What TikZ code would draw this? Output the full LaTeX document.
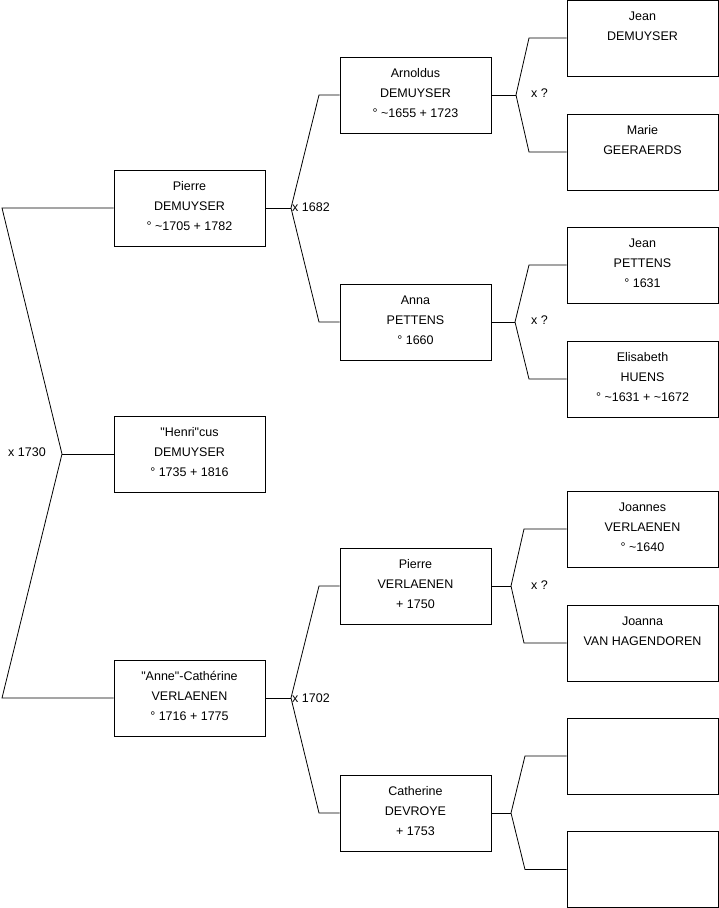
\documentclass[tikz,border=0pt]{standalone}
\usepackage{fontspec}
\setmainfont{Liberation Sans}
\newcommand{\lastdep}{\rule[-4pt]{0pt}{4pt}}
\begin{document}
\begin{tikzpicture}[x=1pt,y=-1pt,
  person/.style={draw, line width=0.8pt, minimum width=151pt, minimum height=76pt, inner sep=0pt, align=center, font=\fontsize{12.5}{20}\selectfont},
  link/.style={line width=0.8pt},
  lbl/.style={font=\fontsize{12.5}{15}\selectfont, inner sep=0pt, anchor=west}]
\useasboundingbox (0,0) rectangle (719,908);
% generation 1
\node[person] (p1) at (189.5,208) {Pierre\\DEMUYSER\\° \textasciitilde1705 + 1782\lastdep};
\node[person] (h1) at (189.5,454) {\textquotedbl Henri\textquotedbl cus\\DEMUYSER\\° 1735 + 1816\lastdep};
\node[person] (a1) at (189.5,698) {\textquotedbl Anne\textquotedbl -Cathérine\\VERLAENEN\\° 1716 + 1775\lastdep};
% generation 2
\node[person] (ar) at (415.5,95) {Arnoldus\\DEMUYSER\\° \textasciitilde1655 + 1723\lastdep};
\node[person] (an) at (415.5,322) {Anna\\PETTENS\\° 1660\lastdep};
\node[person] (pv) at (415.5,586) {Pierre\\VERLAENEN\\+ 1750\lastdep};
\node[person] (ca) at (415.5,813) {Catherine\\DEVROYE\\+ 1753\lastdep};
% generation 3
\node[person] (jd) at (642.5,38) {Jean\\DEMUYSER\\\vphantom{1}\lastdep};
\node[person] (mg) at (642.5,152) {Marie\\GEERAERDS\\\vphantom{1}\lastdep};
\node[person] (jp) at (642.5,265) {Jean\\PETTENS\\° 1631\lastdep};
\node[person] (eh) at (642.5,379) {Elisabeth\\HUENS\\° \textasciitilde1631 + \textasciitilde1672\lastdep};
\node[person] (jv) at (642.5,529) {Joannes\\VERLAENEN\\° \textasciitilde1640\lastdep};
\node[person] (jh) at (642.5,643) {Joanna\\VAN HAGENDOREN\\\vphantom{1}\lastdep};
\node[person] (e1) at (642.5,756) {};
\node[person] (e2) at (642.5,869.5) {};
% fork points
\coordinate (f0) at (62,454);
\coordinate (c0a) at (2,208);
\coordinate (c0b) at (2,698);
\coordinate (f1) at (291,208);
\coordinate (c1a) at (319,95);
\coordinate (c1b) at (319,322);
\coordinate (f2) at (291,698);
\coordinate (c2a) at (319,586);
\coordinate (c2b) at (319,813);
\coordinate (f3) at (516,95);
\coordinate (c3a) at (529,38);
\coordinate (c3b) at (529,152);
\coordinate (f4) at (515,322);
\coordinate (c4a) at (529,265);
\coordinate (c4b) at (529,379);
\coordinate (f5) at (511,586);
\coordinate (c5a) at (524,529);
\coordinate (c5b) at (524,643);
\coordinate (f6) at (511,813);
\coordinate (c6a) at (525,756);
\coordinate (c6b) at (525,869.5);
% connectors
\draw[link] (p1.west) -- (c0a) -- (f0) -- (c0b) -- (a1.west);
\draw[link] (f0) -- (h1.west);
\draw[link] (p1.east) -- (f1);
\draw[link] (ar.west) -- (c1a) -- (f1) -- (c1b) -- (an.west);
\draw[link] (a1.east) -- (f2);
\draw[link] (pv.west) -- (c2a) -- (f2) -- (c2b) -- (ca.west);
\draw[link] (ar.east) -- (f3);
\draw[link] (jd.west) -- (c3a) -- (f3) -- (c3b) -- (mg.west);
\draw[link] (an.east) -- (f4);
\draw[link] (jp.west) -- (c4a) -- (f4) -- (c4b) -- (eh.west);
\draw[link] (pv.east) -- (f5);
\draw[link] (jv.west) -- (c5a) -- (f5) -- (c5b) -- (jh.west);
\draw[link] (ca.east) -- (f6);
\draw[link] (e1.west) -- (c6a) -- (f6) -- (c6b) -- (e2.west);
% labels
\node[lbl] (l0) at (8,452) {x 1730};
\node[lbl] (l1) at (292,207) {x 1682};
\node[lbl] (l2) at (292,698) {x 1702};
\node[lbl] (l3) at (531,93) {x ?};
\node[lbl] (l4) at (531,320) {x ?};
\node[lbl] (l5) at (531,585) {x ?};
\end{tikzpicture}
\end{document}
